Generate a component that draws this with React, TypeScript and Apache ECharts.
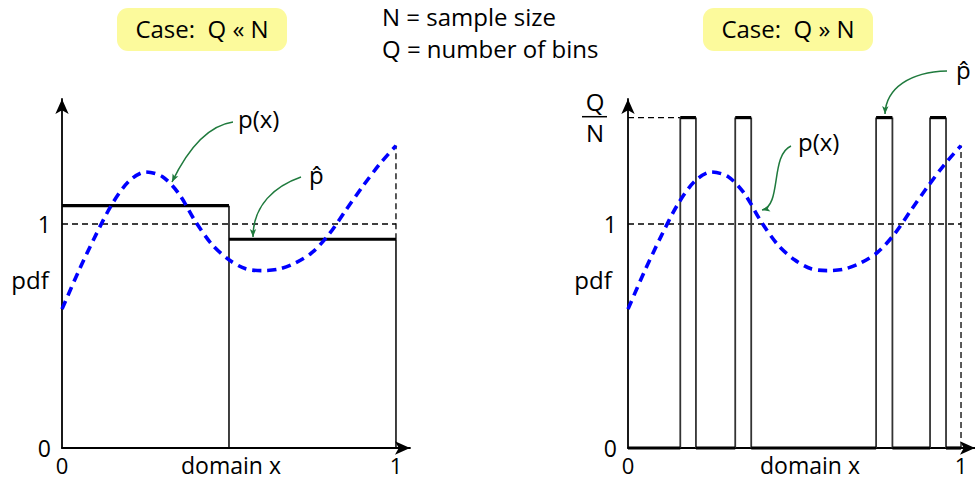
import React, { useEffect, useRef } from "react";
import * as echarts from "echarts";

// ---- data ----
const curveX = [0, 0.05, 0.1, 0.15, 0.2, 0.25, 0.3, 0.35, 0.4, 0.45, 0.5, 0.55, 0.6, 0.65, 0.7, 0.75, 0.8, 0.85, 0.9, 0.95, 1];
const curvePdf = [0.62, 0.79, 0.947, 1.089, 1.19, 1.232, 1.212, 1.135, 1.01, 0.907, 0.84, 0.8, 0.792, 0.799, 0.827, 0.874, 0.955, 1.062, 1.167, 1.265, 1.35];

const leftBinEdges = [0, 0.5, 1];
const leftBinHeights = [1.082, 0.932];

const rightBarStarts = [0.157, 0.322, 0.745, 0.907];
const rightBarEnds = [0.204, 0.37, 0.794, 0.955];
const rightBarHeight = 1.475; // Q/N

const axisTickValues = [0, 1];

const FONT = "'Open Sans'";
const GREEN = "#1f7a3d";
const BLUE = "#0000ff";

type P = [number, number];

function seg(grid: number, pts: P[], lineStyle: any, z = 2) {
  return {
    type: "line",
    xAxisIndex: grid,
    yAxisIndex: grid,
    data: pts,
    showSymbol: false,
    symbol: "none",
    silent: true,
    clip: false,
    z,
    lineStyle,
  };
}

function head(tip: P, from: P, len = 8, half = 3.2) {
  const dx = tip[0] - from[0];
  const dy = tip[1] - from[1];
  const n = Math.hypot(dx, dy);
  const ux = dx / n;
  const uy = dy / n;
  const bx = tip[0] - ux * len;
  const by = tip[1] - uy * len;
  return [
    [tip[0], tip[1]],
    [bx - uy * half, by + ux * half],
    [bx + ux * 2, by + uy * 2],
    [bx + uy * half, by - ux * half],
  ];
}

function curvedArrow(p0: P, c1: P, c2: P, p3: P) {
  return [
    {
      type: "bezierCurve",
      shape: { x1: p0[0], y1: p0[1], cpx1: c1[0], cpy1: c1[1], cpx2: c2[0], cpy2: c2[1], x2: p3[0], y2: p3[1] },
      style: { stroke: GREEN, lineWidth: 1.5, fill: null },
      z: 50,
    },
    {
      type: "polygon",
      shape: { points: head(p3, c2) },
      style: { fill: GREEN },
      z: 51,
    },
  ];
}

function txt(text: string, x: number, y: number, size = 24, align = "center") {
  return {
    type: "text",
    x,
    y,
    z: 60,
    style: {
      text,
      fill: "#000",
      font: `${size}px ${FONT}`,
      lineHeight: size - 4,
      align,
      textAlign: align,
      verticalAlign: "middle",
      textVerticalAlign: "middle",
    },
  };
}

export default function App() {
  const ref = useRef<HTMLDivElement>(null);

  useEffect(() => {
    if (!ref.current) return;
    const chart = echarts.init(ref.current, undefined, { renderer: "svg" });

    const curve = curveX.map((x, i) => [x, curvePdf[i]] as P);
    const thin = { color: "#000", width: 1.5 };
    const thinGrey = { color: "#333", width: 1.8 };
    const thick = { color: "#000", width: 3.2 };
    const dashed = { color: "#000", width: 1.3, type: [6, 4] };
    const curveStyle = { color: BLUE, width: 3.6, type: [9, 6] };

    const series: any[] = [];

    // ---- left panel (grid 0) ----
    leftBinHeights.forEach((h, i) => {
      series.push(seg(0, [[leftBinEdges[i], h], [leftBinEdges[i + 1], h]], thick, 4));
    });
    for (let j = 1; j < leftBinEdges.length; j++) {
      const top = Math.max(leftBinHeights[j - 1], leftBinHeights[j] ?? 0);
      series.push(seg(0, [[leftBinEdges[j], 0], [leftBinEdges[j], top]], thin, 3));
    }
    series.push(seg(0, [[0, 1], [1, 1]], dashed, 2));
    series.push(
      seg(0, [[1, leftBinHeights[leftBinHeights.length - 1]], [1, curvePdf[curvePdf.length - 1]]], dashed, 2)
    );
    series.push({ ...seg(0, curve, curveStyle, 10), smooth: 0.3 });

    // ---- right panel (grid 1) ----
    rightBarStarts.forEach((s, i) => {
      const e = rightBarEnds[i];
      series.push(seg(1, [[s, 0], [s, rightBarHeight]], thinGrey, 3));
      series.push(seg(1, [[e, 0], [e, rightBarHeight]], thinGrey, 3));
      series.push(seg(1, [[s, rightBarHeight], [e, rightBarHeight]], thick, 4));
    });
    const gapStarts = [0, ...rightBarEnds];
    const gapEnds = [...rightBarStarts, 1];
    gapStarts.forEach((s, i) => {
      series.push(seg(1, [[s, 0], [gapEnds[i], 0]], thick, 4));
    });
    series.push(seg(1, [[0, 1], [1, 1]], dashed, 2));
    series.push(seg(1, [[0, rightBarHeight], [rightBarStarts[0], rightBarHeight]], dashed, 2));
    series.push(seg(1, [[1, 0], [1, curvePdf[curvePdf.length - 1]]], dashed, 2));
    series.push({ ...seg(1, curve, curveStyle, 10), smooth: 0.3 });

    const axisLine = {
      show: true,
      symbol: ["none", "arrow"],
      symbolSize: [10, 15],
      lineStyle: { color: "#000", width: 1.8 },
    };
    const labelFmt = (v: number) => (axisTickValues.indexOf(v) >= 0 ? String(v) : "");

    const xAxis = [0, 1].map((g) => ({
      type: "value",
      gridIndex: g,
      min: 0,
      max: 1.042,
      interval: 1,
      axisLine,
      axisTick: { show: false },
      splitLine: { show: false },
      axisLabel: {
        formatter: labelFmt,
        fontSize: 22,
        lineHeight: 18,
        fontFamily: FONT,
        color: "#000",
        margin: 8,
        showMaxLabel: false,
      },
    }));
    const yAxis = [0, 1].map((g) => ({
      type: "value",
      gridIndex: g,
      min: 0,
      max: 1.558,
      interval: 1,
      axisLine,
      axisTick: { show: false },
      splitLine: { show: false },
      axisLabel: {
        formatter: labelFmt,
        fontSize: 23,
        lineHeight: 19,
        fontFamily: FONT,
        color: "#000",
        margin: 11,
        showMaxLabel: false,
      },
    }));

    const graphic: any[] = [
      // title boxes
      { type: "rect", shape: { x: 117, y: 8, width: 170, height: 43, r: 11 }, style: { fill: "#fcfa9c" }, z: 40 },
      { type: "rect", shape: { x: 703, y: 8, width: 170, height: 43, r: 11 }, style: { fill: "#fcfa9c" }, z: 40 },
      txt("Case:  Q « N", 202, 28),
      txt("Case:  Q » N", 788, 28),
      txt("N = sample size", 382, 16, 24, "left"),
      txt("Q = number of bins", 382, 48, 24, "left"),
      // axis names
      txt("pdf", 30, 279),
      txt("pdf", 593, 279),
      txt("domain x", 231, 465, 23),
      txt("domain x", 810, 465, 23),
      // Q/N fraction
      txt("Q", 595, 101),
      { type: "line", shape: { x1: 582, y1: 116.7, x2: 607, y2: 116.7 }, style: { stroke: "#000", lineWidth: 1.5 }, z: 60 },
      txt("N", 595, 132),
      // annotation labels
      txt("p(x)", 238, 118, 24, "left"),
      txt("p\u0302", 309, 174, 24, "left"),
      txt("p(x)", 798, 141, 24, "left"),
      txt("p\u0302", 956, 69, 24, "left"),
      // arrows
      ...curvedArrow([233, 122], [205, 126], [186, 153], [172, 182]),
      ...curvedArrow([301, 177], [275, 186], [253, 205], [253, 237]),
      ...curvedArrow([791, 146], [770, 155], [782, 206], [762, 210]),
      ...curvedArrow([947, 71], [910, 72], [886, 88], [885, 114]),
    ];

    chart.setOption({
      animation: false,
      backgroundColor: "#fff",
      grid: [
        { left: 62, top: 99, width: 348, height: 349 },
        { left: 628, top: 99, width: 348, height: 349 },
      ],
      xAxis,
      yAxis,
      series,
      graphic,
    });

    return () => chart.dispose();
  }, []);

  return <div ref={ref} style={{ position: "fixed", left: 0, top: 0, width: 975, height: 481 }} />;
}
